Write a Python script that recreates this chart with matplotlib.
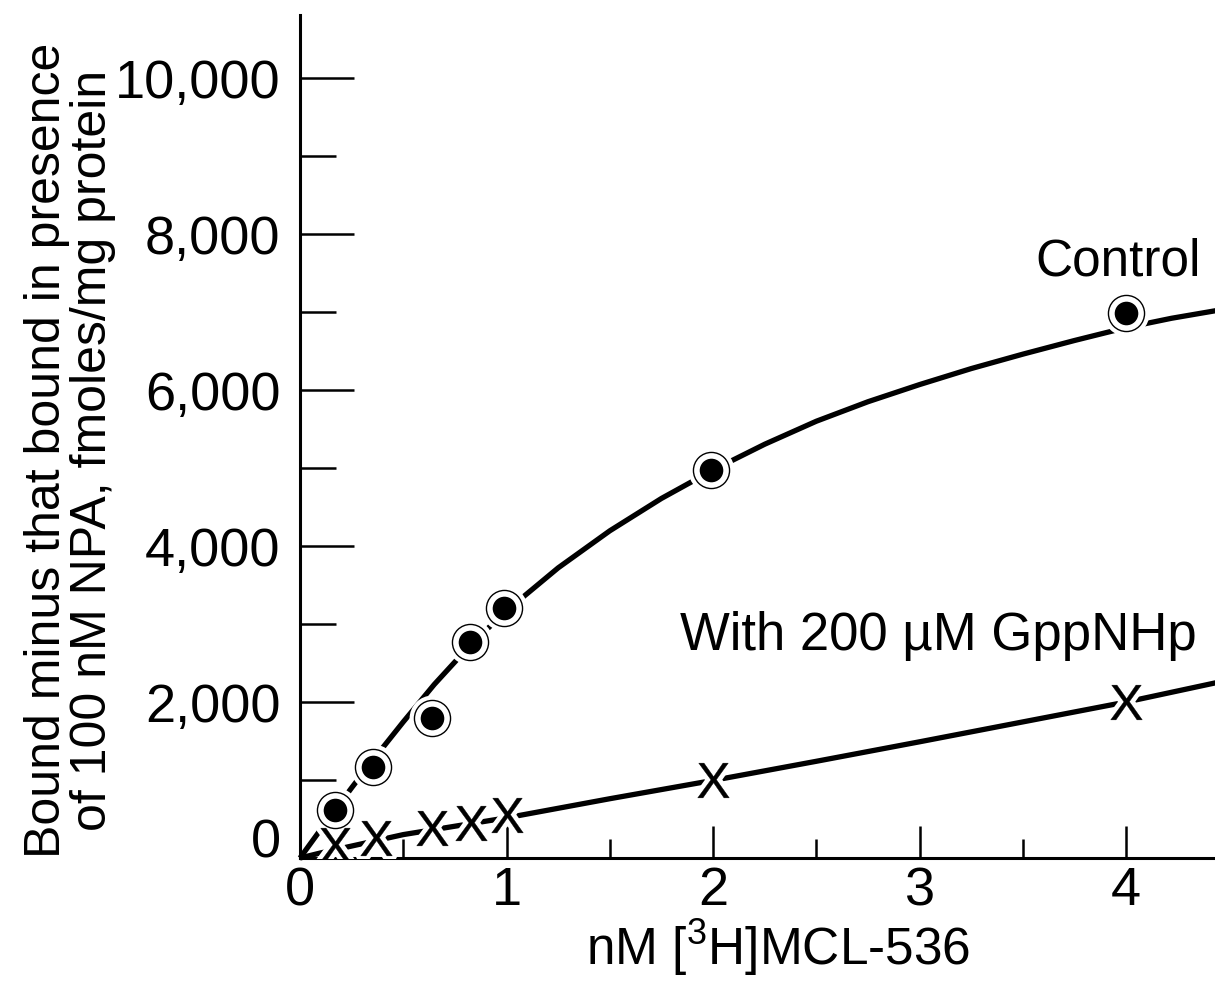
import matplotlib.pyplot as plt
import matplotlib.transforms as mtransforms
import numpy as np

plt.rcParams['font.family'] = ['Liberation Sans', 'DejaVu Sans']
plt.rcParams['mathtext.default'] = 'regular'

# measured points
control_x = [0.17, 0.355, 0.64, 0.825, 0.99, 1.99, 4.0]
control_y = [615, 1170, 1795, 2770, 3205, 4975, 6985]
gpp_x = [0.17, 0.37, 0.64, 0.83, 1.0, 2.0, 4.0]
gpp_y = [167, 256, 385, 449, 551, 1000, 2004]

# drawn curves
control_fit_x = [0, 0.1, 0.17, 0.25, 0.36, 0.5, 0.65, 0.83, 1.0, 1.25, 1.5,
                 1.75, 2.0, 2.25, 2.5, 2.75, 3.0, 3.25, 3.5, 3.75, 4.0, 4.22, 4.44]
control_fit_y = [0, 365, 615, 900, 1280, 1745, 2225, 2745, 3170, 3720, 4195,
                 4610, 4975, 5305, 5600, 5850, 6070, 6275, 6460, 6635, 6800, 6920, 7020]
gpp_fit_x = [0, 0.1, 0.5, 1.0, 1.5, 2.0, 2.5, 3.0, 3.5, 4.0, 4.44]
gpp_fit_y = [0, 65, 300, 515, 760, 995, 1240, 1490, 1745, 2000, 2250]

yticks_major = [0, 2000, 4000, 6000, 8000, 10000]
ytick_labels = ['0', '2,000', '4,000', '6,000', '8,000', '10,000']
yticks_minor = [1000, 3000, 5000, 7000, 9000]
xticks_major = [0, 1, 2, 3, 4]
xticks_minor = [0.5, 1.5, 2.5, 3.5]

fig = plt.figure(figsize=(12.15, 9.82), dpi=100)
ax = fig.add_axes([300 / 1215, 124 / 982, 915 / 1215, 843 / 982])

ax.plot(control_fit_x, control_fit_y, color='black', lw=3.8, solid_capstyle='butt',
        solid_joinstyle='round', clip_on=False)
ax.plot(gpp_fit_x, gpp_fit_y, color='black', lw=3.8, solid_capstyle='butt',
        solid_joinstyle='round', clip_on=False)

# circled dots: white halo + thin ring, then filled dot
ax.plot(control_x, control_y, 'o', ms=30, mfc='white', mec='white', mew=3, zorder=3)
ax.plot(control_x, control_y, 'o', ms=26, mfc='white', mec='black', mew=1.0, zorder=4)
ax.plot(control_x, control_y, 'o', ms=17, mfc='black', mec='black', mew=0, zorder=5)

# letter X markers with white halo
ax.plot(gpp_x, gpp_y, ls='none', marker=r'$\mathregular{X}$', ms=25, mfc='white',
        mec='white', mew=7, zorder=3)
ax.plot(gpp_x, gpp_y, ls='none', marker=r'$\mathregular{X}$', ms=25, mfc='black',
        mec='black', mew=0.3, zorder=4)

ax.text(3.56, 7474, 'Control', fontsize=37, ha='left', va='baseline')
ax.text(1.84, 2667, 'With 200 µM GppNHp', fontsize=38, ha='left', va='baseline')

ax.set_xlim(0, 4.43)
ax.set_ylim(0, 10808)
ax.set_yticks(yticks_major)
ax.set_yticklabels(ytick_labels)
ax.set_yticks(yticks_minor, minor=True)
ax.set_xticks(xticks_major)
ax.set_xticks(xticks_minor, minor=True)

for s in ['top', 'right']:
    ax.spines[s].set_visible(False)
for s in ['left', 'bottom']:
    ax.spines[s].set_linewidth(2.2)

ax.tick_params(axis='y', which='major', direction='in', length=39, width=1.8,
               labelsize=39, pad=14)
ax.tick_params(axis='y', which='minor', direction='in', length=26, width=1.8)
ax.tick_params(axis='x', which='major', direction='in', length=23, width=1.8,
               labelsize=39, pad=6)
ax.tick_params(axis='x', which='minor', direction='in', length=14, width=1.8)

# the y "0" sits a little above the axis in the original
zero_lab = ax.get_yticklabels()[0]
zero_lab.set_transform(zero_lab.get_transform() +
                       mtransforms.ScaledTranslation(0, 0.2, fig.dpi_scale_trans))

fig.text(778 / 1215, 1 - 948 / 982, r'nM [$^{3}$H]MCL-536', fontsize=37,
         ha='center', va='center')
fig.text(70 / 1215, 1 - 450 / 982,
         'Bound minus that bound in presence\nof 100 nM NPA, fmoles/mg protein',
         fontsize=36, rotation=90, ha='center', va='center',
         multialignment='center', linespacing=1.0)

fig.savefig('out.png', dpi=100, facecolor='white')
